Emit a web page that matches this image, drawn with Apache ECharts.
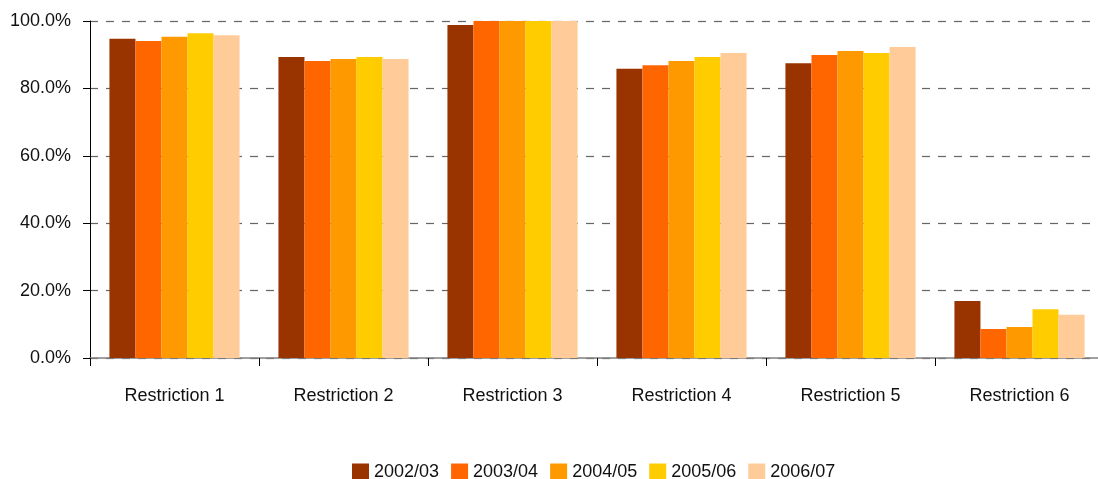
<!DOCTYPE html>
<html><head><meta charset="utf-8">
<script src="https://cdn.jsdelivr.net/npm/echarts@6/dist/echarts.min.js"></script>
<style>html,body{margin:0;padding:0;background:#fff}#c{width:1098px;height:479px}</style>
</head><body><div id="c"></div>
<script>
const categories = ['Restriction 1','Restriction 2','Restriction 3','Restriction 4','Restriction 5','Restriction 6'];
const seriesNames = ['2002/03','2003/04','2004/05','2005/06','2006/07'];
const s2002 = [94.7, 89.3, 98.8, 85.8, 87.5, 16.9];
const s2003 = [94.1, 88.1, 100.0, 86.9, 89.9, 8.6];
const s2004 = [95.3, 88.7, 100.0, 88.1, 91.1, 9.2];
const s2005 = [96.4, 89.3, 100.0, 89.3, 90.5, 14.5];
const s2006 = [95.8, 88.7, 100.0, 90.5, 92.3, 12.8];
const colors = ['#993300','#FF6600','#FF9900','#FFCC00','#FFCC99'];
const allData = [s2002, s2003, s2004, s2005, s2006];
const font = '"Liberation Sans", Arial, sans-serif';
const chart = echarts.init(document.getElementById('c'), null, {renderer:'canvas'});
chart.setOption({
  animation:false,
  color: colors,
  grid:{left:90, top:21, width:1014, height:337, containLabel:false, outerBoundsMode:'none'},
  legend:{
    top:458, left:347, itemWidth:17, itemHeight:17, itemGap:12,
    icon:'rect',
    textStyle:{fontFamily:font, fontSize:18, color:'#111'},
    data: seriesNames
  },
  xAxis:{
    type:'category', data:categories,
    axisLine:{lineStyle:{color:'#808080', width:1.5}},
    axisTick:{show:true, length:8, lineStyle:{color:'#000'}},
    axisLabel:{fontFamily:font, fontSize:18, color:'#111', margin:29}
  },
  yAxis:{
    type:'value', min:0, max:100, interval:20,
    axisLine:{show:true, lineStyle:{color:'#000', width:1}},
    axisTick:{show:true, length:7, lineStyle:{color:'#000'}},
    axisLabel:{fontFamily:font, fontSize:18, color:'#111', margin:19,
      formatter: v => v.toFixed(1) + '%'},
    splitLine:{show:true, lineStyle:{color:'#666', type:[8,8], width:1.2}}
  },
  series: seriesNames.map((n,i)=>({
    name:n, type:'bar', data:allData[i],
    barGap:'0%', barCategoryGap:'23%',
    itemStyle:{color:colors[i]}
  }))
});
</script></body></html>
